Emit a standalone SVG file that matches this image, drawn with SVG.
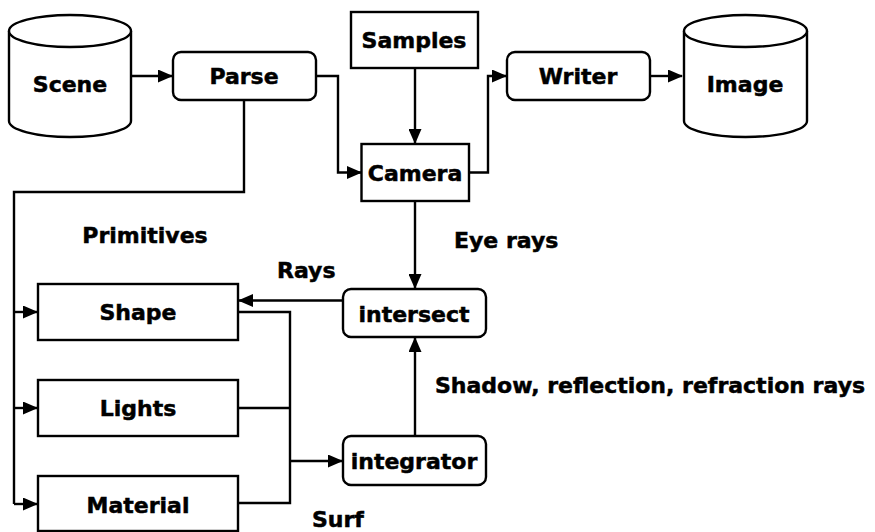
<svg xmlns="http://www.w3.org/2000/svg" width="875" height="532" viewBox="0 0 875 532">
<style>
.box{fill:#fff;stroke:#000;stroke-width:2.4}
.ln{fill:none;stroke:#000;stroke-width:2.4}
text{font-family:"DejaVu Sans","Liberation Sans",sans-serif;font-weight:bold;font-size:22px;fill:#000;stroke:#000;stroke-width:0.5}
.c{text-anchor:middle}
</style>
<defs>
<marker id="ah" markerWidth="15" markerHeight="13" refX="14" refY="6.5" orient="auto" markerUnits="userSpaceOnUse">
<path d="M0,0 L15,6.5 L0,13 Z" fill="#000"/>
</marker>
</defs>
<g id="connectors">
<path class="ln" d="M131,76 H172" marker-end="url(#ah)"/>
<path class="ln" d="M316,76 H338 V172.5 H361" marker-end="url(#ah)"/>
<path class="ln" d="M415,68 V143" marker-end="url(#ah)"/>
<path class="ln" d="M469,172.5 H488 V76 H506" marker-end="url(#ah)"/>
<path class="ln" d="M650,76 H682" marker-end="url(#ah)"/>
<path class="ln" d="M244,100 V192 H14 V504"/>
<path class="ln" d="M14,312 H37" marker-end="url(#ah)"/>
<path class="ln" d="M14,408 H37" marker-end="url(#ah)"/>
<path class="ln" d="M14,504 H37" marker-end="url(#ah)"/>
<path class="ln" d="M415,201 V288" marker-end="url(#ah)"/>
<path class="ln" d="M343,300.5 H239" marker-end="url(#ah)"/>
<path class="ln" d="M238,312 H290 V503 H238"/>
<path class="ln" d="M238,408 H290"/>
<path class="ln" d="M290,461 H342" marker-end="url(#ah)"/>
<path class="ln" d="M415,436 V338" marker-end="url(#ah)"/>
</g>
<g id="scene">
<path class="box" d="M9,31 V121 A61,16 0 0 0 131,121 V31"/>
<ellipse class="box" cx="70" cy="31" rx="61" ry="16"/>
<text class="c" x="70" y="92">Scene</text>
</g>
<g id="parse">
<rect class="box" x="173" y="52" width="143" height="48" rx="8"/>
<text class="c" x="244" y="84">Parse</text>
</g>
<g id="samples">
<rect class="box" x="351" y="12" width="127" height="56"/>
<text class="c" x="414" y="48">Samples</text>
</g>
<g id="camera">
<rect class="box" x="361.5" y="144" width="107.5" height="57"/>
<text class="c" x="415" y="181">Camera</text>
</g>
<g id="writer">
<rect class="box" x="507" y="52" width="143" height="48" rx="8"/>
<text class="c" x="578" y="84">Writer</text>
</g>
<g id="image">
<path class="box" d="M684,31 V121 A61.5,16 0 0 0 807,121 V31"/>
<ellipse class="box" cx="745.5" cy="31" rx="61.5" ry="16"/>
<text class="c" x="745" y="92">Image</text>
</g>
<g id="shape">
<rect class="box" x="38" y="284" width="200" height="56"/>
<text class="c" x="138" y="320">Shape</text>
</g>
<g id="lights">
<rect class="box" x="38" y="380" width="200" height="56"/>
<text class="c" x="138" y="416">Lights</text>
</g>
<g id="material">
<rect class="box" x="38" y="476" width="200" height="55"/>
<text class="c" x="138" y="513">Material</text>
</g>
<g id="intersect">
<rect class="box" x="343" y="289" width="143" height="48" rx="8"/>
<text class="c" x="414" y="322">intersect</text>
</g>
<g id="integrator">
<rect class="box" x="343" y="436" width="143" height="49" rx="8"/>
<text class="c" x="414" y="469">integrator</text>
</g>
<g id="labels">
<text class="c" x="145" y="243">Primitives</text>
<text x="454" y="248">Eye rays</text>
<text x="277" y="278">Rays</text>
<text x="435" y="393">Shadow, reflection, refraction rays</text>
<text x="312" y="527">Surf</text>
</g>
</svg>
